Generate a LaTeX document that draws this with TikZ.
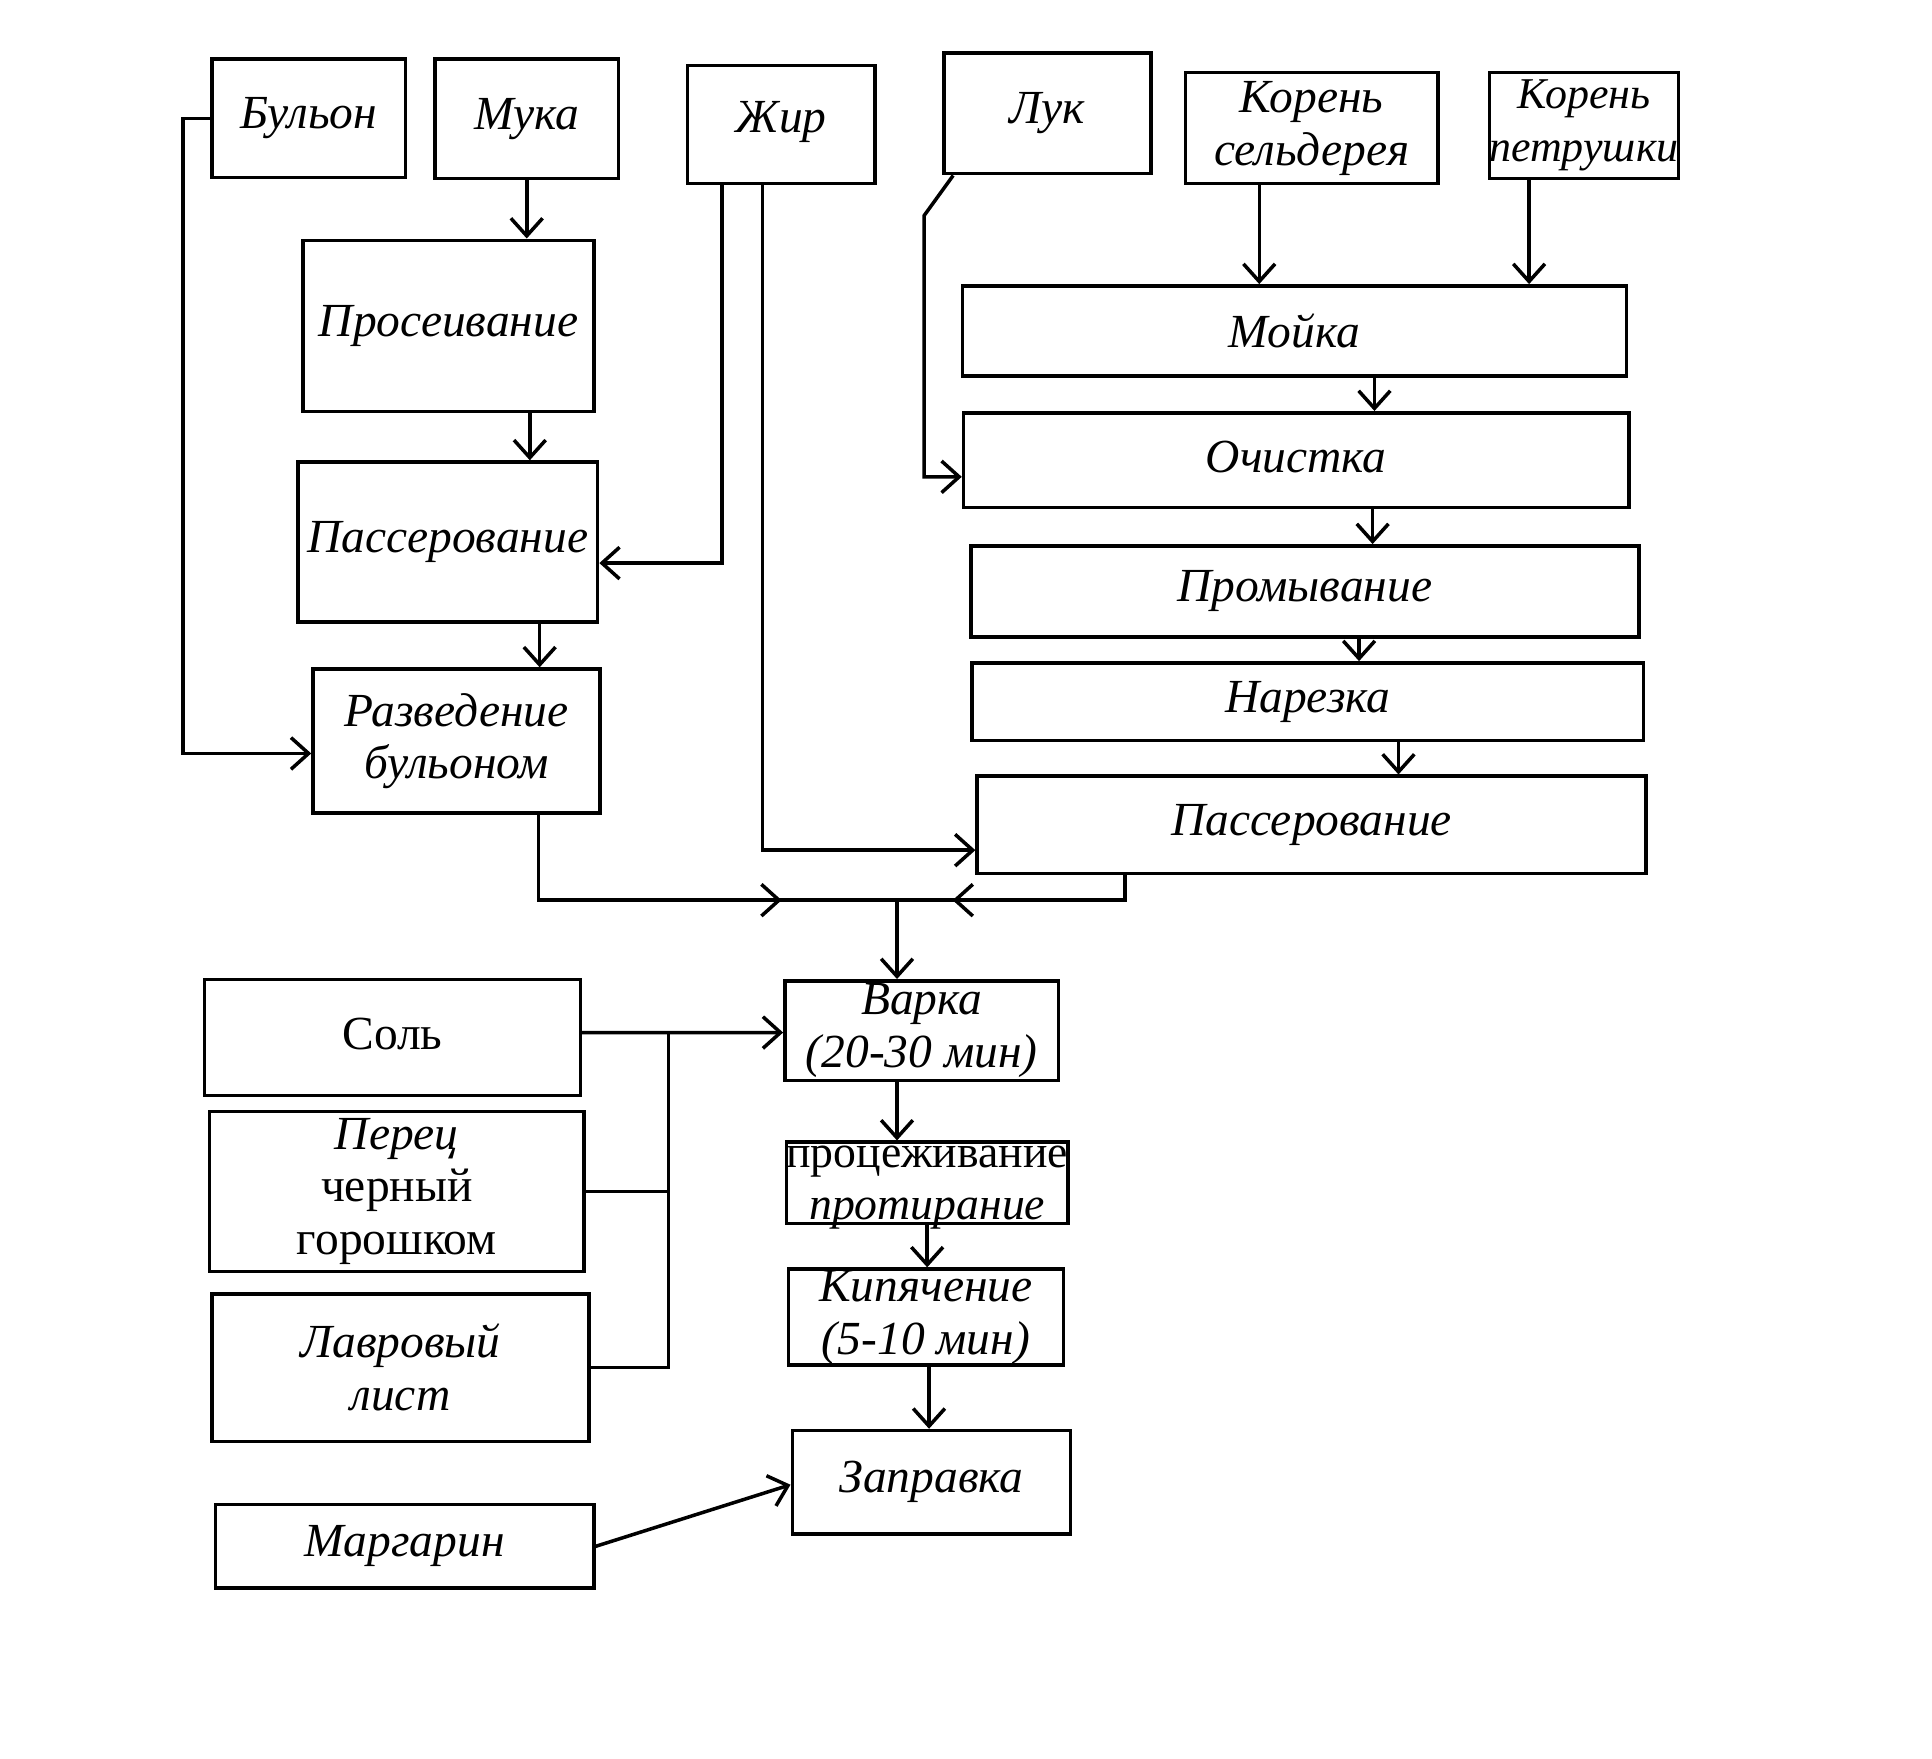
\documentclass[tikz,border=0pt]{standalone}
\usepackage{fontspec}
\setmainfont{Liberation Serif}
\usetikzlibrary{arrows.meta,calc,decorations.markings}

\newcommand\px{0.012321cm}

\tikzset{
  box/.style 2 args={draw, rectangle, line width=1pt, inner sep=0pt,
    minimum width=#1*\px, minimum height=#2*\px, align=center,
    font=\fontsize{13.5}{15}\selectfont\itshape},
  midarrow/.style={postaction={decorate},
    decoration={markings, mark=at position #1 with {\arrow{>}}}},
  >={Straight Barb[length=5pt,width=9pt]}
}

\begin{document}
\begin{tikzpicture}[x=0.012321cm, y=-0.012321cm, line width=1pt]

        \useasboundingbox (0,0) rectangle (1568,1427);

        % raw materials
        \node[box={157}{96}] (1)  at (250.5,96)   {Бульон};
        \node[box={149}{97}] (2)  at (427.5,96.5) {\raisebox{2pt}{Мука}};
        \node[box={152}{96}] (3)  at (634,101)    {\raisebox{4pt}{Жир}};
        \node[box={168}{98}] (4)  at (850,92)     {Лук};
        \node[box={205}{90}] (5)  at (1064.5,104) {Корень\\сельдерея};
        \node[box={149}{86}, font=\fontsize{12.5}{15}\selectfont\itshape] (6)
          at (1285.5,102) {Корень\\петрушки};

        % left branch
        \node[box={236}{139}] (7) at (364,264.5)  {\raisebox{2pt}{Просеивание}};
        \node[box={243}{130}] (8) at (363.5,440)  {Пассерование};
        \node[box={233}{117}] (9) at (370.5,601.5) {Разведение\\бульоном};

        % right branch
        \node[box={539}{73}] (10) at (1050.5,268.5) {Мойка};
        \node[box={540}{77}] (11) at (1052,373.5)   {\raisebox{2pt}{Очистка}};
        \node[box={542}{74}] (12) at (1059,480)     {Промывание};
        \node[box={545}{63}] (13) at (1061.5,569.5) {Нарезка};
        \node[box={543}{79}] (14) at (1064.5,669.5) {Пассерование};

        % spices
        \node[box={305}{94}]  (15) at (318.5,842) {\raisebox{2pt}{\upshape Соль}};
        \node[box={304}{130}] (16) at (322,967)   {Перец\\\upshape черный\\\upshape горошком};
        \node[box={306}{120}] (17) at (325,1110)  {Лавровый\\лист};
        \node[box={307}{68}]  (18) at (328.5,1255) {Маргарин};

        % main line
        \node[box={222}{81}] (19) at (748,836.5) {Варка\\(20-30 мин)};
        \node[box={225}{66}, text height=22pt, text depth=1pt,
          font=\fontsize{13}{15}\selectfont\itshape] (20) at (752.5,960)
          {\upshape процеживание\\протирание};
        \node[box={223}{78}] (21) at (751.5,1069) {Кипячение\\(5-10 мин)};
        \node[box={226}{84}] (22) at (756,1203)   {Заправка};

        % helper points
        \coordinate (m1) at ($(7.south)+(66,0)$);
        \coordinate (m2) at ($(8.south)+(74.5,0)$);
        \coordinate (z1) at ($(3.south)+(-48,0)$);
        \coordinate (z2) at ($(3.south)+(-15,0)$);
        \coordinate (l1) at ($(4.south west)+(9,0)$);
        \coordinate (l2) at (750,175);
        \coordinate (k1) at ($(5.south)+(-42.5,0)$);
        \coordinate (k2) at ($(6.south)+(-44.5,0)$);
        \coordinate (r1) at ($(10.south)+(65,0)$);
        \coordinate (r2) at ($(11.south)+(62,0)$);
        \coordinate (r3) at ($(12.south)+(44,0)$);
        \coordinate (r4) at ($(13.south)+(73.5,0)$);
        \coordinate (v1) at ($(9.south)+(66.5,0)$);
        \coordinate (v2) at ($(14.south)+(-151.5,0)$);
        \coordinate (jn) at ($(19.north)+(-20,-64)$);
        \coordinate (bus) at ($(15.east)+(70,-4)$);
        \coordinate (w1) at ($(19.south)+(-20,0)$);

        % flour
        \draw[->] (2.south) -- (2.south |- 7.north);
        \draw[->] (m1) -- (m1 |- 8.north);
        \draw[->] (m2) -- (m2 |- 9.north);
        \draw[->] (1.west) -- ++(-22,0) |- ($(9.west)+(0,10)$);

        % fat
        \draw[->] (z1) |- ($(8.east)+(0,17)$);
        \draw[->] (z2) |- ($(14.west)+(0,20.5)$);

        % vegetables
        \draw[->] (l1) -- (l2) |- ($(11.west)+(0,13.5)$);
        \draw[->] (k1) -- (k1 |- 10.north);
        \draw[->] (k2) -- (k2 |- 10.north);
        \draw[->] (r1) -- (r1 |- 11.north);
        \draw[->] (r2) -- (r2 |- 12.north);
        \draw[->] (r3) -- (r3 |- 13.north);
        \draw[->] (r4) -- (r4 |- 14.north);

        % joining
        \draw[midarrow=0.74] (v1) |- (jn);
        \draw[midarrow=0.78] (v2) |- (jn);
        \draw[->] (jn) -- (jn |- 19.north);

        % spices
        \draw[->] ($(15.east)+(0,-4)$) -- (bus) -- ($(19.west)+(0,1.5)$);
        \draw (16.east) -| (bus);
        \draw (17.east) -| (bus);

        \draw[->] (w1) -- (w1 |- 20.north);
        \draw[->] (20.south) -- (20.south |- 21.north);
        \draw[->] ($(21.south)+(2.5,0)$) -- ($(21.south |- 22.north)+(2.5,0)$);
        \draw[->] (18.east) -- ($(22.west)+(0,2)$);

      \end{tikzpicture}
\end{document}
